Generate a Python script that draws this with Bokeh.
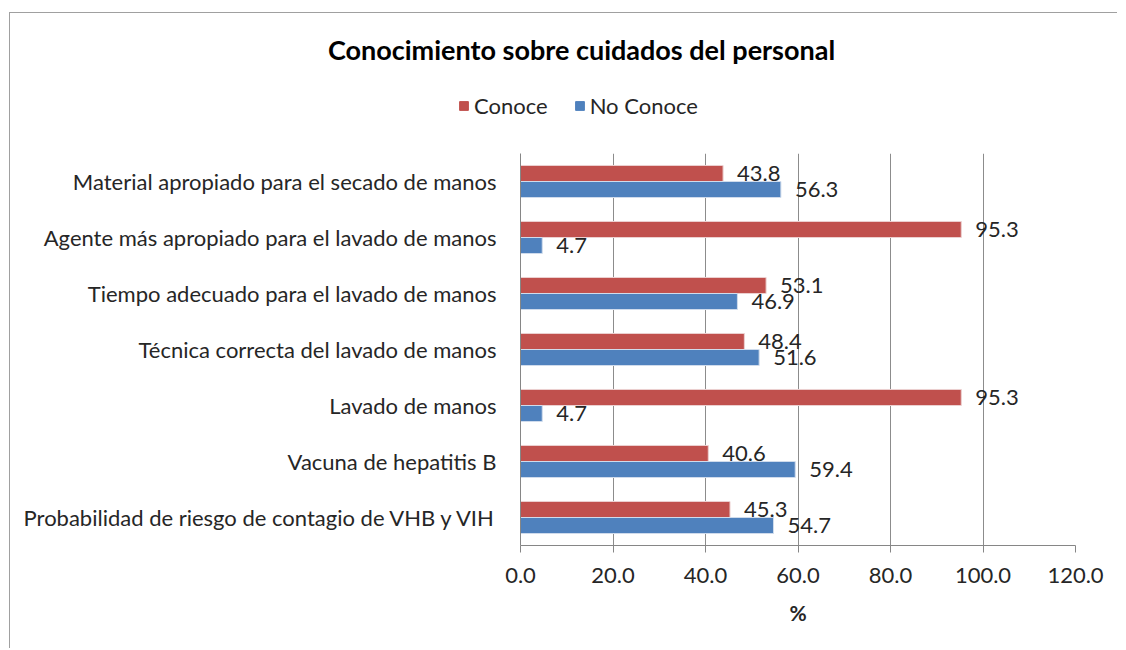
from bokeh.plotting import figure
from bokeh.models import (FactorRange, Range1d, FixedTicker, NumeralTickFormatter,
                          ColumnDataSource, Legend, LegendItem)
from bokeh.transform import dodge
from bokeh.core.properties import value
from bokeh.embed import file_html
from bokeh.resources import INLINE

categories = [
    "Material apropiado para el secado de manos",
    "Agente más apropiado para el lavado de manos",
    "Tiempo adecuado para el lavado de manos",
    "Técnica correcta del lavado de manos",
    "Lavado de manos",
    "Vacuna de hepatitis B",
    "Probabilidad de riesgo de contagio de VHB y VIH",
]
conoce = [43.8, 95.3, 53.1, 48.4, 95.3, 40.6, 45.3]
no_conoce = [56.3, 4.7, 46.9, 51.6, 4.7, 59.4, 54.7]
x_ticks = [0, 20, 40, 60, 80, 100, 120]
title_text = "Conocimiento sobre cuidados del personal"
series_names = ["Conoce", "No Conoce"]

RED = "#C0504D"
BLUE = "#4F81BD"
FONT = "Lato"
TXT = "#262626"
FS = "22px"
BORDER = "1px solid #a0a0a0"

W = 1108
TOP_H = 141

# ---------- header figure (title + legend) ----------
top = figure(width=W, height=TOP_H, x_range=Range1d(0, W), y_range=Range1d(0, TOP_H),
             x_axis_type=None, y_axis_type=None, min_border=0,
             output_backend="svg", toolbar_location=None)
top.styles = {"border-left": BORDER, "border-top": BORDER,
              "margin-left": "9px", "margin-top": "12px"}
top.outline_line_color = None
top.grid.grid_line_color = None
top.text(x=[571], y=[TOP_H - 36], text=[title_text], text_align="center",
         text_baseline="middle", text_font=value(FONT), text_font_style="bold",
         text_font_size="27px", text_color="black")
# legend swatch renderers (placed outside the visible range; only their swatches show)
swatch = ColumnDataSource(dict(l=[-60], r=[-50], b=[-60], t=[-50]))
d1 = top.quad(left="l", right="r", bottom="b", top="t", source=swatch,
              fill_color=RED, line_color=RED)
d2 = top.quad(left="l", right="r", bottom="b", top="t", source=swatch,
              fill_color=BLUE, line_color=BLUE)
legend = Legend(items=[LegendItem(label=series_names[0], renderers=[d1]),
                       LegendItem(label=series_names[1], renderers=[d2])],
                orientation="horizontal", location=(448, 35),
                label_text_font=FONT, label_text_font_size=FS, label_text_color=TXT,
                glyph_width=11, glyph_height=11, label_standoff=5, spacing=26,
                padding=0, margin=0, border_line_color=None,
                background_fill_alpha=0)
top.add_layout(legend, "center")

# ---------- main chart ----------
src = ColumnDataSource(dict(
    cat=categories, conoce=conoce, no_conoce=no_conoce,
    conoce_lbl=[f"{v:.1f}" for v in conoce],
    no_conoce_lbl=[f"{v:.1f}" for v in no_conoce],
))

p = figure(
    y_range=FactorRange(*reversed(categories)),
    x_range=Range1d(0, 120),
    width=W, height=495,
    frame_width=555, frame_height=392,
    min_border_left=510, min_border_top=0, min_border_right=43, min_border_bottom=103,
    output_backend="svg", toolbar_location=None,
)
p.styles = {"border-left": BORDER, "margin-left": "9px"}
p.outline_line_color = None
p.background_fill_color = "white"

bh = 0.286
r1 = p.hbar(y=dodge("cat", 0.143, range=p.y_range), right="conoce", left=0, height=bh,
            source=src, fill_color=RED, line_color="#ecd0d0", line_width=1)
r2 = p.hbar(y=dodge("cat", -0.143, range=p.y_range), right="no_conoce", left=0, height=bh,
            source=src, fill_color=BLUE, line_color="#d0dcec", line_width=1)

p.text(x="conoce", y=dodge("cat", 0.143, range=p.y_range), text="conoce_lbl", source=src,
       x_offset=14, text_baseline="middle", text_align="left",
       text_font=value(FONT), text_font_size=FS, text_color=TXT)
p.text(x="no_conoce", y=dodge("cat", -0.143, range=p.y_range), text="no_conoce_lbl", source=src,
       x_offset=14, text_baseline="middle", text_align="left",
       text_font=value(FONT), text_font_size=FS, text_color=TXT)

p.xaxis.ticker = FixedTicker(ticks=x_ticks)
p.xaxis.formatter = NumeralTickFormatter(format="0.0")
p.xaxis.axis_label = "%"
p.xaxis.axis_label_text_font = FONT
p.xaxis.axis_label_text_font_style = "bold"
p.xaxis.axis_label_text_font_size = "21px"
p.xaxis.axis_label_text_color = TXT
p.xaxis.axis_label_standoff = 14
p.xaxis.major_label_text_font = FONT
p.xaxis.major_label_text_font_size = FS
p.xaxis.major_label_text_color = TXT
p.xaxis.major_label_standoff = 15
p.xaxis.axis_line_color = "#868686"
p.xaxis.major_tick_line_color = "#868686"
p.xaxis.major_tick_out = 7
p.xaxis.major_tick_in = 0
p.xaxis.minor_tick_line_color = None

p.yaxis.major_label_text_font = FONT
p.yaxis.major_label_text_font_size = FS
p.yaxis.major_label_text_color = TXT
p.yaxis.major_label_standoff = 18
p.yaxis.axis_line_color = "#868686"
p.yaxis.major_tick_line_color = None
p.yaxis.minor_tick_line_color = None

p.xgrid.grid_line_color = "#8c8c8c"
p.ygrid.grid_line_color = None

open("out.html", "w").write(file_html([top, p], INLINE))
